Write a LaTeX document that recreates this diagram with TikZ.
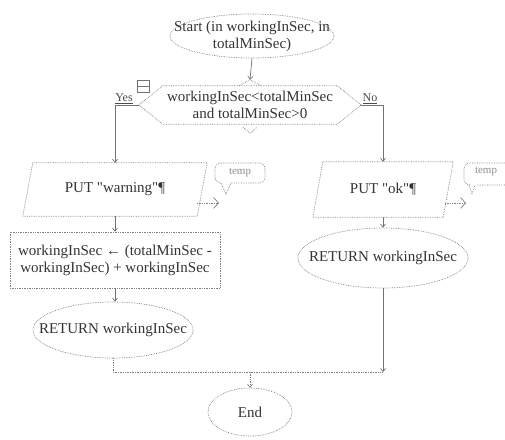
\documentclass[tikz,border=0pt]{standalone}
\usepackage{fontspec}
\setmainfont{Liberation Serif}
\newfontfamily\qfont{Liberation Serif}
\usetikzlibrary{shapes.geometric,arrows.meta,calc}
\newcommand{\sq}{{\qfont"}}
\begin{document}
\begin{tikzpicture}[x=1pt,y=-1pt,
  line/.style={draw=black!50, densely dotted, line width=0.7pt},
  txt/.style={text=black!80, font=\fontsize{15}{17}\selectfont, align=center, inner sep=0pt},
  small/.style={text=black!70, font=\fontsize{12}{14}\selectfont, inner sep=0pt},
  tiny/.style={text=black!45, font=\fontsize{11}{13}\selectfont, inner sep=0pt},
  oval/.style={line, ellipse, inner sep=0pt},
  boxed/.style={line, rectangle, txt},
  plain/.style={txt, rectangle},
  conn/.style={draw=black!55, line width=0.7pt, -{Straight Barb[length=3pt,width=5pt]}},
  dconn/.style={line, -{Straight Barb[length=3pt,width=5pt]}},
  side/.style={line, -{Straight Barb[length=5pt,width=11pt]}}
]
\useasboundingbox (0,0) rectangle (505,439);

% start
\node[oval, minimum width=164, minimum height=44,
  label={[txt]center:{Start (in workingInSec, in\\totalMinSec)}}] (start) at (252,36) {};

% decision
\node[plain, minimum width=222, minimum height=38] (dec) at (250,105)
  {workingInSec<totalMinSec\\and totalMinSec>0};
\draw[line] (dec.west) -- ([xshift=24]dec.north west) -- ([xshift=-24]dec.north east)
  -- (dec.east) -- ([xshift=-24]dec.south east) -- ([xshift=24]dec.south west) -- cycle;
\draw[line] ([xshift=-11]dec.north) -- ([yshift=6]dec.north) -- ([xshift=11]dec.north);
\draw[line] ([xshift=-7,yshift=-3]dec.south) -- ([yshift=-9]dec.south) -- ([xshift=7,yshift=-3]dec.south);
\draw[conn] (start.south) -- ([yshift=6]dec.north);

% small icon
\node[draw=black!55, line width=0.6pt, rectangle, minimum width=12, minimum height=12, inner sep=0pt] (icon) at (143,86) {};
\draw[draw=black!55, line width=0.6pt] (icon.west) -- (icon.east);

% branch coordinates
\coordinate (yc) at (115,105);
\coordinate (nc) at (383,105);

% parallelograms
\node[plain, minimum width=174, minimum height=53] (putw) at (115,189.5) {PUT \sq warning\sq¶};
\draw[line] ([xshift=5]putw.north west) -- ([xshift=5]putw.north east)
  -- ([xshift=-5]putw.south east) -- ([xshift=-5]putw.south west) -- cycle;
\node[plain, minimum width=130, minimum height=55] (putok) at (383,189.5) {PUT \sq ok\sq¶};
\draw[line] ([xshift=5]putok.north west) -- ([xshift=5]putok.north east)
  -- ([xshift=-5]putok.south east) -- ([xshift=-5]putok.south west) -- cycle;

\node[small, anchor=south] (yes) at (124,104) {\underline{Yes}};
\node[small, anchor=south] (no) at (370,104) {\underline{No}};
\draw[conn] (dec.west) -- (yc) -- (putw.north);
\draw[conn] (dec.east) -- (nc) -- (putok.north);

% side arrows
\coordinate (pwr) at (197,203);
\coordinate (pwt) at (219,203);
\draw[side] (pwr) -- (pwt);
\coordinate (pkr) at (445,203);
\coordinate (pkt) at (466,203);
\draw[side] (pkr) -- (pkt);

% temp callouts
\node[tiny] (tw) at (240,173) {temp};
\draw[line, rounded corners=6] (231,183) -- (265,183) -- (265,163) -- (215,163) -- (215,183) -- (221,183);
\draw[line] (221,183) -- (226,194) -- (231,183);
\node[tiny] (tk) at (486,172) {temp};
\draw[line, rounded corners=6] (477,185) -- (515,185) -- (515,163) -- (464,163) -- (464,185) -- (469,185);
\draw[line] (469,185) -- (472,194) -- (475,185);

% calc box
\node[boxed, minimum width=210, minimum height=56] (calc) at (115,260)
  {workingInSec ← (totalMinSec -\\workingInSec) + workingInSec};
\draw[conn] (putw.south) -- (calc.north);

% returns
\node[oval, minimum width=160, minimum height=56, label={[txt]center:{RETURN workingInSec}}] (retl) at (113,330) {};
\draw[conn] (calc.south) -- (calc.south |- retl.north);
\node[oval, minimum width=170, minimum height=60, label={[txt]center:{RETURN workingInSec}}] (retr) at (383,258) {};
\draw[conn] (putok.south) -- (retr.north);

% end
\node[oval, minimum width=84, minimum height=48, label={[txt]center:{End}}] (end) at (250,412) {};
\coordinate (j) at (383,372);
\coordinate (jm) at (250,372);
\draw[line] (retl.south) -- (retl.south |- j) -- (j);
\draw[conn] (retr.south) -- (j);
\draw[dconn] (jm) -- (end.north);
\end{tikzpicture}
\end{document}
